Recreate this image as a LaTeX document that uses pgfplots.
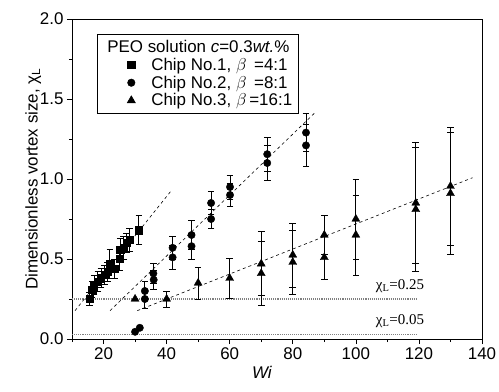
\documentclass[border=0pt]{standalone}
\usepackage{fontspec}
\setmainfont{Liberation Sans}
\newfontfamily\serifchi{Liberation Serif}
\usepackage{pgfplots}
\pgfplotsset{compat=1.18}
\begin{document}
\begin{tikzpicture}
\begin{axis}[
  scale only axis, width=410bp, height=320bp,
  xmin=10, xmax=140, ymin=0, ymax=2,
  xtick={20,40,60,80,100,120,140}, minor xtick={10,30,50,70,90,110,130},
  ytick={0,0.5,1,1.5,2}, minor ytick={0.25,0.75,1.25,1.75},
  xtick pos=bottom, ytick pos=left, tick align=outside,
  major tick length=5bp, minor tick length=3bp,
  tick style={black, line width=0.6bp},
  axis line style={line width=0.6bp},
  /pgf/number format/assume math mode=true,
  yticklabel style={/pgf/number format/.cd, fixed, fixed zerofill, precision=1},
  ticklabel style={font=\fontsize{17}{20}\selectfont},
  xlabel={\textit{Wi}}, ylabel={Dimensionless vortex size, χ\textsubscript{L}},
  label style={font=\fontsize{17}{20}\selectfont},
  xlabel style={xshift=-15bp},
  ylabel shift=-8bp,
  legend style={at={(0.061,0.953)}, anchor=north west, draw=black, line width=0.6bp,
    font=\fontsize{17}{21}\selectfont, inner xsep=4bp, inner ysep=4bp},
  legend cell align=left,
  legend image code/.code={\path[draw=none,fill=none] (0bp,-3bp) rectangle (48bp,3bp); \draw[#1] plot coordinates {(30bp,0bp)};},
  error bars/error bar style={black, line width=0.8bp},
  error bars/error mark options={black, mark size=3.3bp, line width=0.8bp, rotate=90},
]
\addlegendimage{empty legend}
\addlegendentry{\hspace{-44bp}PEO solution \textit{c}=0.3\textit{wt.}\%}

% reference lines
\addplot[forget plot, gray, densely dotted, line width=1.1bp] coordinates {(10,0.25) (119.6,0.25)};
\addplot[forget plot, gray, densely dotted, line width=1.1bp] coordinates {(10,0.03) (119.4,0.03)};
% fits
\addplot[forget plot, black, dashed, line width=0.6bp] coordinates {(10.95,0.177) (41.6,0.93)};
\addplot[forget plot, black, dashed, line width=0.6bp] coordinates {(22.05,0.177) (86.8,1.41)};
\addplot[forget plot, black, dashed, line width=0.6bp] coordinates {(30.7,0.177) (137.0,1.008)};

% Chip No.1
\addplot[only marks, mark=square*, mark size=3.6bp, black,
  error bars/.cd, y dir=both, y explicit] coordinates {
  (15.5,0.25) +- (0,0.04)
  (16.4,0.31) +- (0,0.05)
  (17.0,0.34) +- (0,0.06)
  (18.2,0.36) +- (0,0.06)
  (19.2,0.38) +- (0,0.06)
  (20.3,0.40) +- (0,0.06)
  (21.3,0.42) +- (0,0.06)
  (22.0,0.47) +- (0,0.09)
  (23.4,0.44) +- (0,0.06)
  (25.0,0.50) +- (0,0.07)
  (25.3,0.56) +- (0,0.07)
  (26.4,0.57) +- (0,0.07)
  (27.3,0.60) +- (0,0.06)
  (28.2,0.62) +- (0,0.07)
  (31.2,0.68) +- (0,0.09)
};
\addlegendentry{Chip No.1, $\beta$\hspace{0.45em}=4:1}

% Chip No.2
\addplot[only marks, mark=*, mark size=3.7bp, black,
  error bars/.cd, y dir=both, y explicit] coordinates {
  (30.0,0.045) +- (0,0)
  (31.5,0.07) +- (0,0)
  (33.1,0.30) +- (0,0.06)
  (33.1,0.25) +- (0,0.06)
  (35.8,0.41) +- (0,0.06)
  (35.9,0.37) +- (0,0.06)
  (41.9,0.57) +- (0,0.07)
  (41.9,0.51) +- (0,0.075)
  (47.9,0.65) +- (0,0.09)
  (47.9,0.58) +- (0,0.08)
  (54.1,0.85) +- (0,0.07)
  (54.1,0.75) +- (0,0.06)
  (60.1,0.95) +- (0,0.075)
  (60.1,0.90) +- (0,0.07)
  (71.9,1.155) +- (0,0.105)
  (71.9,1.10) +- (0,0.11)
  (84.2,1.29) +- (0,0.12)
  (84.2,1.21) +- (0,0.13)
};
\addlegendentry{Chip No.2, $\beta$\hspace{0.45em}=8:1}

% Chip No.3
\addplot[only marks, mark=triangle*, mark size=4.6bp, black,
  error bars/.cd, y dir=both, y explicit] coordinates {
  (30,0.25) +- (0,0)
  (40,0.25) +- (0,0.05)
  (50,0.35) +- (0,0.10)
  (60,0.38) +- (0,0.125)
  (70,0.47) +- (0,0.20)
  (70,0.41) +- (0,0.20)
  (80,0.525) +- (0,0.20)
  (80,0.48) +- (0,0.20)
  (90,0.65) +- (0,0.12)
  (90,0.51) +- (0,0.14)
  (100,0.75) +- (0,0.25)
  (100,0.65) +- (0,0.25)
  (119,0.85) +- (0,0.38)
  (119,0.81) +- (0,0.39)
  (130,0.955) +- (0,0.37)
  (130,0.91) +- (0,0.38)
};
\addlegendentry{Chip No.3, $\beta$\,=16:1}

\node[font=\serifchi\fontsize{15}{18}\selectfont] at (axis cs:114,0.33) {χ\textsubscript{L}=0.25};
\node[font=\serifchi\fontsize{15}{18}\selectfont] at (axis cs:114,0.11) {χ\textsubscript{L}=0.05};
\end{axis}
\pgfresetboundingbox
\useasboundingbox ([xshift=-72bp,yshift=-53bp]current axis.south west) rectangle ([xshift=17bp,yshift=19bp]current axis.north east);
\end{tikzpicture}
\end{document}
